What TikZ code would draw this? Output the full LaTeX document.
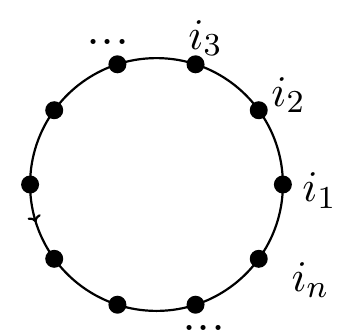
\documentclass[tikz,border=0pt]{standalone}
\usetikzlibrary{decorations.markings,arrows.meta}
\begin{document}
\begin{tikzpicture}[x=0.25pt,y=0.25pt,
  vdot/.style={circle,fill=black,inner sep=0pt,minimum size=4.5pt},
  lab/.style={inner sep=0pt,font=\fontsize{11}{12}\selectfont},
  dts/.style={inner sep=0pt,font=\fontsize{13}{14}\selectfont}]
\useasboundingbox (-156.5,-151.5) rectangle (190.5,184.5);
\coordinate (c) at (0,0);
\draw[line width=0.55pt,postaction={decorate},
  decoration={markings,mark=at position 0.548 with {\arrow{To[length=1.6pt,width=3.4pt]}}}]
  (c) circle (31.6pt);
\foreach \k in {0,...,9}{
  \node[vdot] (d\k) at (\k*36:126.4) {};
}
\node[lab] (l1) at (163,-6) {$i_1$};
\node[lab] (l2) at (132,89.5) {$i_2$};
\node[lab] (l3) at (49,146.5) {$i_3$};
\node[dts] (t1) at (-48.5,142.5) {...};
\node[lab] (ln) at (154,-95.5) {$i_n$};
\node[dts] (t2) at (47.5,-143) {...};
\end{tikzpicture}
\end{document}
